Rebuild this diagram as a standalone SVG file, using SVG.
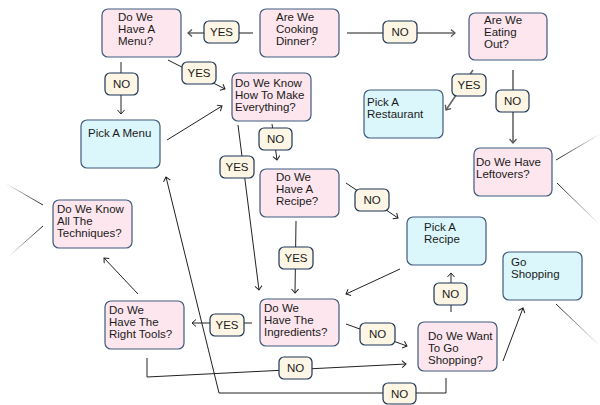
<svg xmlns="http://www.w3.org/2000/svg" width="600" height="405" viewBox="0 0 600 405">
<style>
.q{fill:#fde6ee;stroke:#3e5a7e;stroke-width:1.2}
.a{fill:#dbf7fc;stroke:#3e5a7e;stroke-width:1.2}
.l{fill:#fdf6e4;stroke:#1d3557;stroke-width:1.2}
text{font-family:"Liberation Sans",Arial,sans-serif;font-size:11.5px;fill:#1a1a1a}
.c{text-anchor:middle}
.e{fill:none;stroke:#222;stroke-width:1}
.g{fill:none;stroke:#666;stroke-width:1.6}
.f{fill:none;stroke-width:1}
</style>
<defs>
<marker id="ah" markerWidth="10" markerHeight="10" refX="5" refY="4" orient="auto" markerUnits="userSpaceOnUse"><path d="M1,0.5 L5,4 L1,7.5" fill="none" stroke="#222" stroke-width="1"/></marker>
<marker id="ahg" markerWidth="10" markerHeight="10" refX="5" refY="4" orient="auto" markerUnits="userSpaceOnUse"><path d="M1,0.5 L5,4 L1,7.5" fill="none" stroke="#555" stroke-width="1.3"/></marker>
<linearGradient id="f1" gradientUnits="userSpaceOnUse" x1="43" y1="205" x2="5" y2="183"><stop offset="0" stop-color="#222"/><stop offset="1" stop-color="#222" stop-opacity="0"/></linearGradient>
<linearGradient id="f2" gradientUnits="userSpaceOnUse" x1="43" y1="226" x2="8" y2="257"><stop offset="0" stop-color="#222"/><stop offset="1" stop-color="#222" stop-opacity="0"/></linearGradient>
<linearGradient id="f3" gradientUnits="userSpaceOnUse" x1="556" y1="160" x2="600" y2="134"><stop offset="0" stop-color="#222"/><stop offset="1" stop-color="#222" stop-opacity="0"/></linearGradient>
<linearGradient id="f4" gradientUnits="userSpaceOnUse" x1="557" y1="183" x2="600" y2="225"><stop offset="0" stop-color="#222"/><stop offset="1" stop-color="#222" stop-opacity="0"/></linearGradient>
<linearGradient id="f5" gradientUnits="userSpaceOnUse" x1="556" y1="304" x2="600" y2="346"><stop offset="0" stop-color="#222"/><stop offset="1" stop-color="#222" stop-opacity="0"/></linearGradient>
</defs>
<rect width="600" height="405" fill="#fff"/>
<g id="connectors">
<path class="g" d="M253,33 L188,33" marker-end="url(#ahg)"/>
<path class="g" d="M347,33 L455,33" marker-end="url(#ahg)"/>
<path class="g" d="M473,70 L446,110" marker-end="url(#ahg)"/>
<path class="g" d="M513,70 L513,143" marker-end="url(#ahg)"/>
<path class="e" d="M168,60 L225,89" marker-end="url(#ah)"/>
<path class="e" d="M121,62 L121,114" marker-end="url(#ah)"/>
<path class="e" d="M167,140 L222,106" marker-end="url(#ah)"/>
<path class="e" d="M272,124 L277,160" marker-end="url(#ah)"/>
<path class="e" d="M238,125 L259,290" marker-end="url(#ah)"/>
<path class="e" d="M346,183 L398,218" marker-end="url(#ah)"/>
<path class="e" d="M296,221 L295,293" marker-end="url(#ah)"/>
<path class="e" d="M400,269 L346,294" marker-end="url(#ah)"/>
<path class="e" d="M252,323 L192,323" marker-end="url(#ah)"/>
<path class="e" d="M346,324 L407,346" marker-end="url(#ah)"/>
<path class="e" d="M451,312 L451,273" marker-end="url(#ah)"/>
<path class="e" d="M503,361 L523,308" marker-end="url(#ah)"/>
<path class="e" d="M147,358 L147,377 L406,364" marker-end="url(#ah)"/>
<path class="e" d="M446,378 L446,393 L219,393 L166,177" marker-end="url(#ah)"/>
<path class="e" d="M138,294 L104,258" marker-end="url(#ah)"/>
<path class="f" d="M43,205 L5,183" stroke="url(#f1)"/>
<path class="f" d="M43,226 L8,257" stroke="url(#f2)"/>
<path class="f" d="M556,160 L600,134" stroke="url(#f3)"/>
<path class="f" d="M557,183 L600,225" stroke="url(#f4)"/>
<path class="f" d="M556,304 L600,346" stroke="url(#f5)"/>
<g id="labels">
<rect class="l" x="204" y="21" width="35" height="22" rx="5"/><text class="c" x="221.5" y="36">YES</text>
<rect class="l" x="383" y="21" width="34" height="22" rx="5"/><text class="c" x="400" y="36">NO</text>
<rect class="l" x="182" y="62" width="34" height="22" rx="5"/><text class="c" x="199" y="77">YES</text>
<rect class="l" x="105" y="73" width="33" height="22" rx="5"/><text class="c" x="121.5" y="88">NO</text>
<rect class="l" x="259" y="128" width="33" height="22" rx="5"/><text class="c" x="275.5" y="143">NO</text>
<rect class="l" x="220" y="156" width="34" height="22" rx="5"/><text class="c" x="237" y="171">YES</text>
<rect class="l" x="452" y="74" width="34" height="22" rx="5"/><text class="c" x="469" y="89">YES</text>
<rect class="l" x="496" y="90" width="33" height="22" rx="5"/><text class="c" x="512.5" y="105">NO</text>
<rect class="l" x="355" y="189" width="34" height="22" rx="5"/><text class="c" x="372" y="204">NO</text>
<rect class="l" x="279" y="247" width="34" height="22" rx="5"/><text class="c" x="296" y="262">YES</text>
<rect class="l" x="210" y="314" width="34" height="22" rx="5"/><text class="c" x="227" y="329">YES</text>
<rect class="l" x="360" y="323" width="35" height="22" rx="5"/><text class="c" x="377.5" y="338">NO</text>
<rect class="l" x="434" y="283" width="33" height="22" rx="5"/><text class="c" x="450.5" y="298">NO</text>
<rect class="l" x="279" y="357" width="33" height="22" rx="5"/><text class="c" x="295.5" y="372">NO</text>
<rect class="l" x="383" y="383" width="33" height="21" rx="5"/><text class="c" x="399.5" y="397.5">NO</text>
</g>
</g>
<g id="cooking"><rect class="q" x="260" y="9" width="79" height="48" rx="6"/><text x="276" y="21">Are We</text><text x="276" y="33">Cooking</text><text x="276" y="45">Dinner?</text></g>
<g id="menu"><rect class="q" x="102" y="9" width="79" height="48" rx="6"/><text x="118" y="21">Do We</text><text x="118" y="33">Have A</text><text x="118" y="45">Menu?</text></g>
<g id="eating"><rect class="q" x="469" y="13" width="78" height="47" rx="6"/><text x="484" y="24">Are We</text><text x="484" y="36">Eating</text><text x="484" y="48">Out?</text></g>
<g id="knowhow"><rect class="q" x="232" y="73" width="79" height="48" rx="6"/><text x="235" y="87">Do We Know</text><text x="235" y="99">How To Make</text><text x="235" y="111">Everything?</text></g>
<g id="pickmenu"><rect class="a" x="81" y="120" width="79" height="48" rx="6"/><text x="88" y="137">Pick A Menu</text></g>
<g id="restaurant"><rect class="a" x="364" y="90" width="79" height="48" rx="6"/><text x="367" y="106">Pick A</text><text x="367" y="118">Restaurant</text></g>
<g id="leftovers"><rect class="q" x="474" y="148" width="78" height="48" rx="6"/><text x="476" y="166">Do We Have</text><text x="476" y="178">Leftovers?</text></g>
<g id="recipe"><rect class="q" x="260" y="169" width="79" height="48" rx="6"/><text x="276" y="181">Do We</text><text x="276" y="193">Have A</text><text x="276" y="205">Recipe?</text></g>
<g id="techniques"><rect class="q" x="53" y="200" width="79" height="48" rx="6"/><text x="57" y="213">Do We Know</text><text x="57" y="225">All The</text><text x="57" y="237">Techniques?</text></g>
<g id="pickrecipe"><rect class="a" x="407" y="217" width="79" height="48" rx="6"/><text x="424" y="231">Pick A</text><text x="424" y="243">Recipe</text></g>
<g id="goshopping"><rect class="a" x="503" y="252" width="79" height="48" rx="6"/><text x="511" y="266">Go</text><text x="511" y="278">Shopping</text></g>
<g id="tools"><rect class="q" x="105" y="301" width="79" height="48" rx="6"/><text x="109" y="314">Do We</text><text x="109" y="326">Have The</text><text x="109" y="338">Right Tools?</text></g>
<g id="ingredients"><rect class="q" x="260" y="299" width="79" height="47" rx="6"/><text x="264" y="312">Do We</text><text x="264" y="324">Have The</text><text x="264" y="336">Ingredients?</text></g>
<g id="wantshop"><rect class="q" x="418" y="322" width="79" height="49" rx="6"/><text x="428" y="340">Do We Want</text><text x="428" y="352">To Go</text><text x="428" y="364">Shopping?</text></g>
</svg>
